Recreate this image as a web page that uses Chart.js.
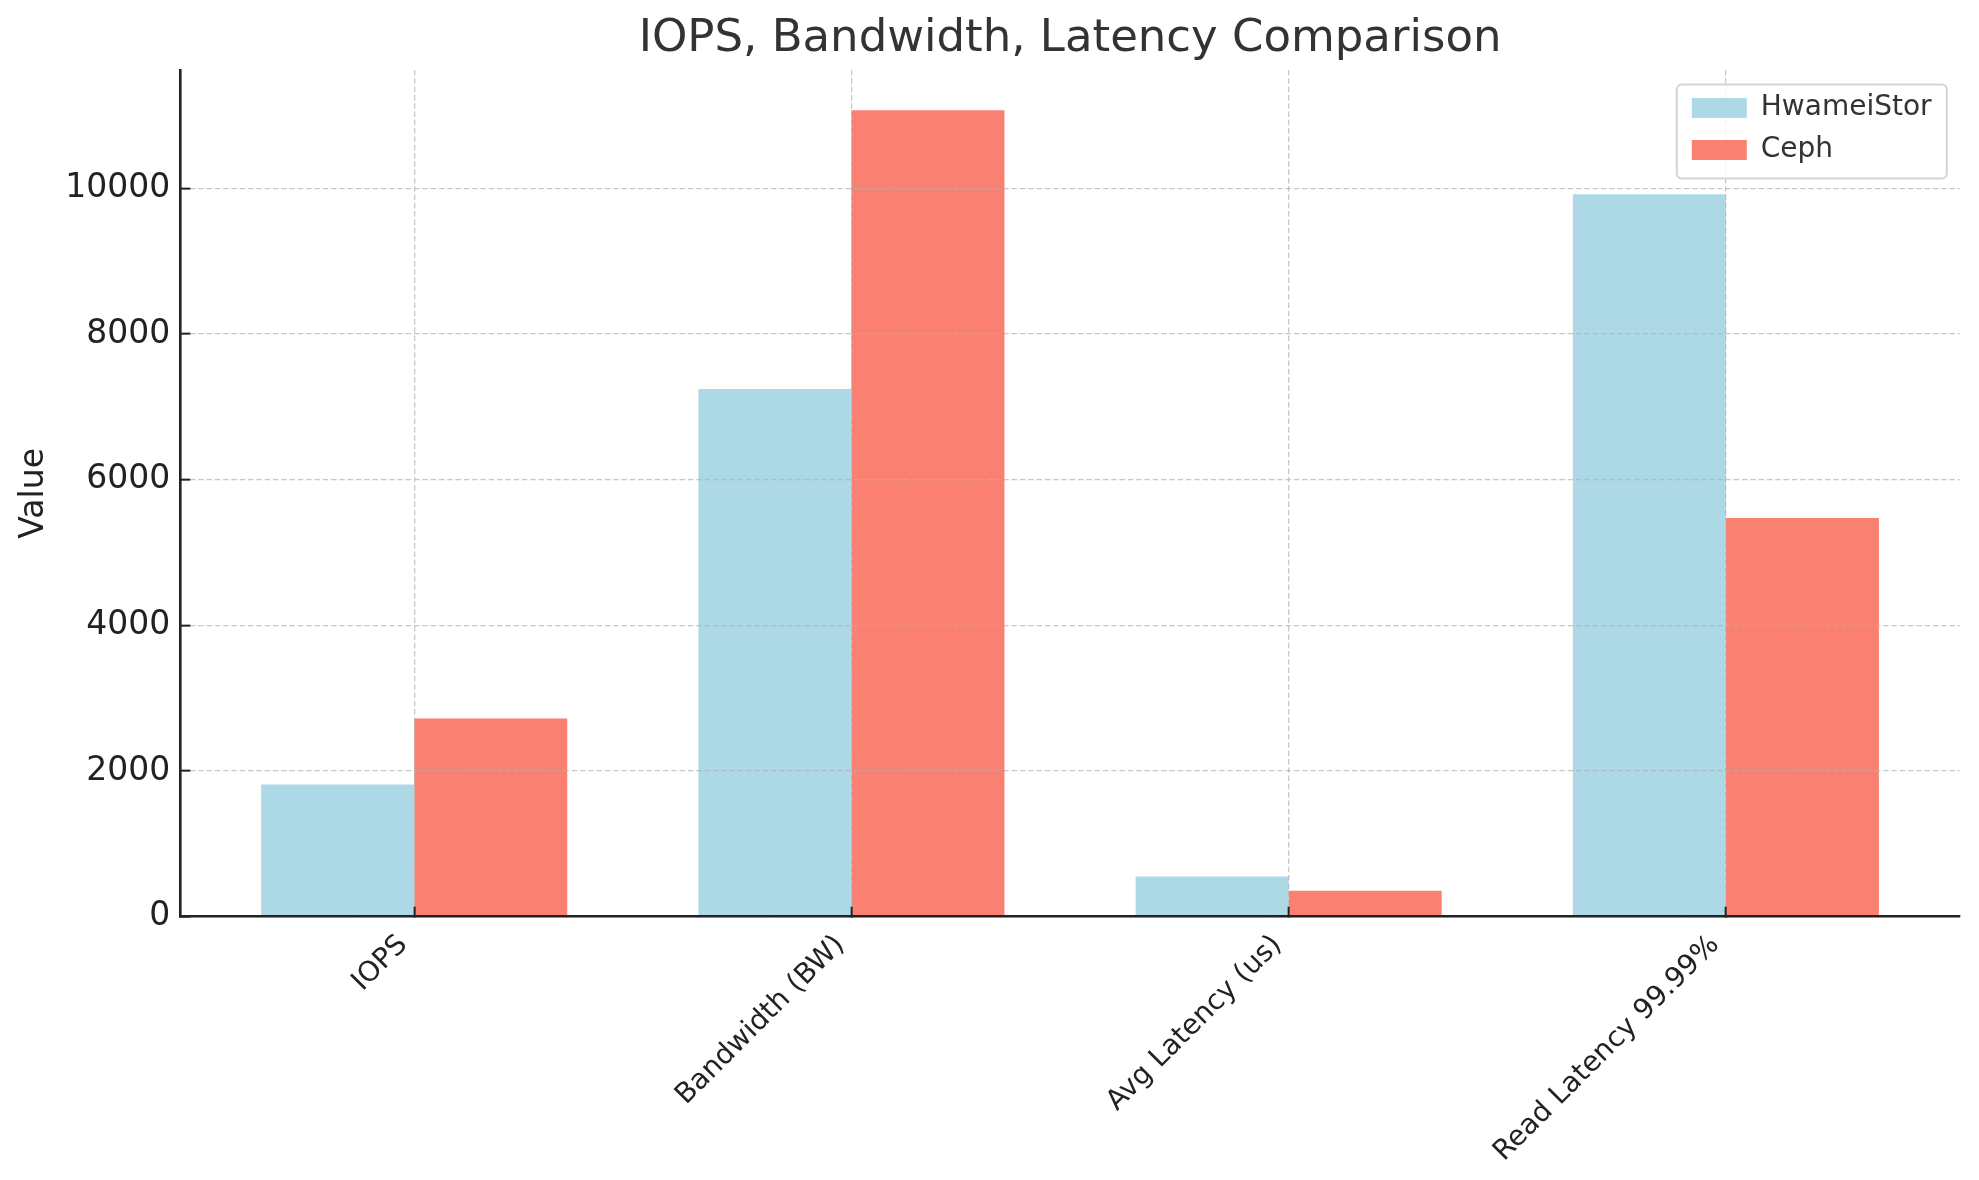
<!DOCTYPE html>
<html>
<head>
<meta charset="utf-8">
<title>IOPS, Bandwidth, Latency Comparison</title>
<script src="https://cdn.jsdelivr.net/npm/chart.js@4.4.1/dist/chart.umd.min.js"></script>
<style>
  html, body { margin: 0; padding: 0; background: #ffffff; }
  canvas { display: block; }
</style>
</head>
<body>
<canvas id="chart" width="1979" height="1180"></canvas>
<script>
// ---- data ----
const categories = ['IOPS', 'Bandwidth (BW)', 'Avg Latency (us)', 'Read Latency 99.99%'];
const seriesNames = ['HwameiStor', 'Ceph'];
const hwameiStorValues = [1814, 7246, 553, 9917];
const cephValues = [2721, 11071, 355, 5474];
const yTickValues = [0, 2000, 4000, 6000, 8000, 10000];
const chartTitle = 'IOPS, Bandwidth, Latency Comparison';
const yAxisLabel = 'Value';

// ---- style ----
const FONT = "'DejaVu Sans', 'Liberation Sans', sans-serif";
const colors = ['#ADD8E6', '#FA8072'];
const gridColor = 'rgba(176,176,176,0.7)';
const axisColor = '#222222';
const xMin = -0.535, xMax = 3.535;
const yMax = Math.max(...hwameiStorValues, ...cephValues) * 1.05;

function toPoints(values) {
  return values.map((v, i) => ({ x: i, y: v }));
}

function drawLegendFrame(chart) {
  const ca = chart.chartArea;
  const ctx = chart.ctx;
  const x = ca.right - 283, y = ca.top + 14.5, w = 270, h = 94;
  ctx.save();
  ctx.beginPath();
  if (ctx.roundRect) ctx.roundRect(x, y, w, h, 5); else ctx.rect(x, y, w, h);
  ctx.fillStyle = 'rgba(255,255,255,0.8)';
  ctx.fill();
  ctx.lineWidth = 2;
  ctx.strokeStyle = '#d4d4d4';
  ctx.stroke();
  ctx.restore();
}

const mplLayout = {
  id: 'mplLayout',
  beforeInit(chart) {
    const lg = chart.legend;
    if (lg) {
      lg._layers = () => [{
        z: 5,
        draw(area) { drawLegendFrame(chart); lg.draw(area); }
      }];
    }
  },
  afterLayout(chart) {
    const ca = chart.chartArea;
    const t = chart.titleBlock;
    if (t) { t.left = ca.left; t.right = ca.right; t.width = ca.right - ca.left; }
    const lg = chart.legend;
    if (lg) {
      lg.left = ca.right - 282;
      lg.top = ca.top + 10;
      lg.width = 300; lg.height = 200;
      lg.right = lg.left + 300;
      lg.bottom = lg.top + 200;
    }
  }
};

new Chart(document.getElementById('chart'), {
  type: 'bar',
  data: {
    datasets: [
      { label: seriesNames[0], data: toPoints(hwameiStorValues), backgroundColor: colors[0], borderWidth: 0 },
      { label: seriesNames[1], data: toPoints(cephValues), backgroundColor: colors[1], borderWidth: 0 }
    ]
  },
  plugins: [mplLayout],
  options: {
    responsive: false,
    devicePixelRatio: 1,
    animation: false,
    events: [],
    barPercentage: 1.0,
    categoryPercentage: 0.7,
    layout: { padding: { left: 0, right: 19.2, top: 0, bottom: 0 } },
    plugins: {
      title: {
        display: true,
        text: chartTitle,
        color: '#333333',
        font: { family: FONT, size: 45, weight: 'normal' },
        padding: { top: 12, bottom: 4 }
      },
      legend: {
        display: true,
        position: 'chartArea',
        align: 'start',
        labels: {
          color: '#333333',
          font: { family: FONT, size: 28 },
          boxWidth: 55,
          boxHeight: 20,
          padding: 14,
          textAlign: 'left'
        }
      },
      tooltip: { enabled: false }
    },
    scales: {
      x: {
        type: 'linear',
        offset: false,
        min: xMin,
        max: xMax,
        afterBuildTicks: (axis) => { axis.ticks = categories.map((c, i) => ({ value: i })); },
        afterFit: (scale) => { scale.height = 1180 - 916.7; },
        grid: {
          display: true,
          offset: false,
          drawOnChartArea: true,
          color: gridColor,
          lineWidth: 1.3,
          drawTicks: true,
          tickLength: -10,
          tickColor: axisColor,
          tickWidth: 2,
          z: 1
        },
        border: { display: true, color: axisColor, width: 2.6, dash: [5.5, 2.8], z: 2 },
        ticks: {
          autoSkip: false,
          minRotation: 45,
          maxRotation: 45,
          labelOffset: -11,
          padding: 22,
          color: axisColor,
          font: { family: FONT, size: 28 },
          callback: (v) => categories[v]
        }
      },
      y: {
        type: 'linear',
        offset: false,
        min: 0,
        max: yMax,
        afterBuildTicks: (axis) => { axis.ticks = yTickValues.map((v) => ({ value: v })); },
        afterFit: (scale) => { scale.width = 180.3; },
        grid: {
          display: true,
          offset: false,
          drawOnChartArea: true,
          color: gridColor,
          lineWidth: 1.3,
          drawTicks: true,
          tickLength: -10,
          tickColor: axisColor,
          tickWidth: 2,
          z: 1
        },
        border: { display: true, color: axisColor, width: 2.6, dash: [5.5, 2.8], z: 2 },
        ticks: {
          padding: 20,
          color: axisColor,
          font: { family: FONT, size: 33 },
          callback: (v) => String(v)
        },
        title: {
          display: true,
          text: yAxisLabel,
          color: axisColor,
          font: { family: FONT, size: 33 },
          padding: { top: 15, bottom: 0 }
        }
      }
    }
  }
});
</script>
</body>
</html>
